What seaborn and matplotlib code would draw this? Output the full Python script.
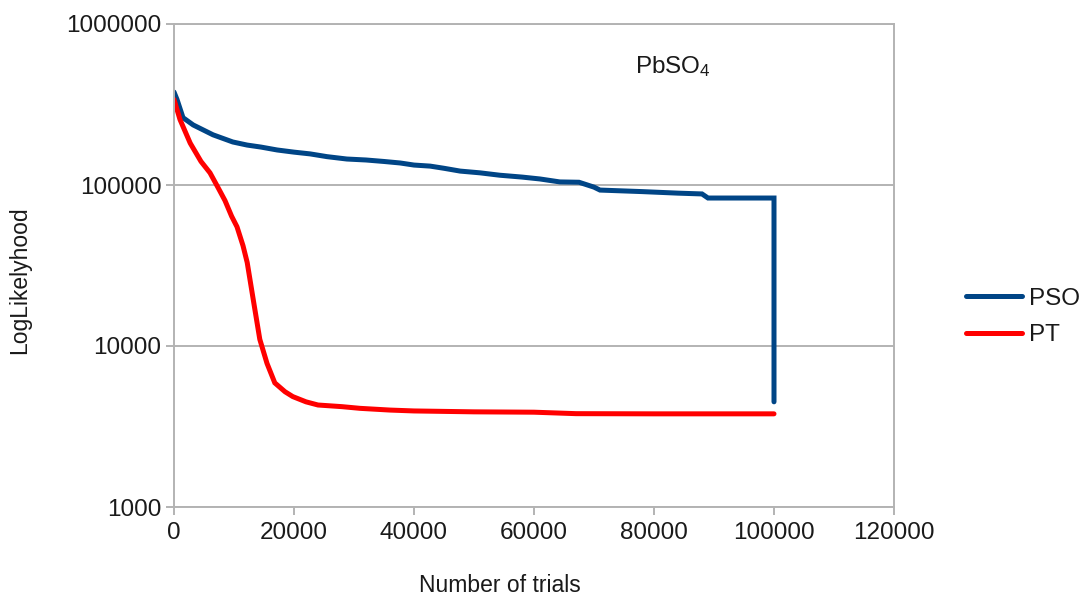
import numpy as np
import pandas as pd
import matplotlib
matplotlib.use("Agg")
import matplotlib.pyplot as plt
from matplotlib.ticker import FixedLocator, FuncFormatter, NullLocator
import seaborn as sns

# Best log-likelihood found so far vs. number of trials
pso_trials = [0, 500, 1500, 3200, 6500, 9800, 12200, 14500, 17200, 20000, 22700,
              25500, 28800, 32000, 35000, 37700, 40000, 42700, 45000, 47700, 51000,
              54300, 58000, 61000, 64300, 67500, 70000, 71000, 78000, 84000, 88000,
              89000, 100000, 100000]
pso_loglik = [378000, 340000, 262000, 236000, 205000, 185000, 177000, 172000, 165000,
              160000, 156000, 150000, 145000, 143000, 140000, 137000, 133000, 131000,
              127000, 122000, 119000, 115000, 112000, 109000, 104500, 104000, 97000,
              93000, 91000, 89000, 88000, 83000, 83000, 4500]

pt_trials = [0, 1000, 2700, 4500, 6000, 7300, 8500, 9600, 10500, 11500, 12200, 13200,
             14300, 15500, 16800, 18500, 19800, 22000, 24000, 28000, 31000, 36000,
             40000, 50000, 60000, 67000, 80000, 100000]
pt_loglik = [340000, 255000, 182000, 140000, 119000, 97000, 80000, 64000, 55000, 42000,
             33000, 19500, 11000, 7800, 5900, 5200, 4850, 4500, 4300, 4200, 4100, 4000,
             3950, 3900, 3880, 3800, 3790, 3790]

series_names = ["PSO", "PT"]
series_colors = ["#004586", "#ff0000"]
y_ticks = [1000, 10000, 100000, 1000000]
x_ticks = [0, 20000, 40000, 60000, 80000, 100000, 120000]

df = pd.concat([
    pd.DataFrame({"trials": pso_trials, "loglik": pso_loglik, "method": "PSO"}),
    pd.DataFrame({"trials": pt_trials, "loglik": pt_loglik, "method": "PT"}),
], ignore_index=True)

sns.set_style("white")
plt.rcParams["font.family"] = ["Liberation Sans", "DejaVu Sans"]
plt.rcParams["mathtext.fontset"] = "custom"
plt.rcParams["mathtext.rm"] = "Liberation Sans"
plt.rcParams["mathtext.it"] = "Liberation Sans"

grid_color = "#b3b3b3"
text_color = "#1a1a1a"

fig = plt.figure(figsize=(10.83, 5.95), dpi=100)
ax = fig.add_axes([174 / 1083, 1 - 507 / 595, 720 / 1083, 483 / 595])

# sort disabled so the final vertical drop of PSO keeps its order
for name, color in zip(series_names, series_colors):
    sub = df[df["method"] == name]
    sns.lineplot(x=sub["trials"].to_numpy(), y=sub["loglik"].to_numpy(), sort=False,
                 estimator=None, color=color, linewidth=3.6, ax=ax, label=name,
                 legend=False, solid_joinstyle="miter")

ax.set_yscale("log")
ax.set_ylim(1000, 1000000)
ax.set_xlim(0, 120000)
ax.yaxis.set_major_locator(FixedLocator(y_ticks))
ax.yaxis.set_minor_locator(NullLocator())
ax.yaxis.set_major_formatter(FuncFormatter(lambda v, p: f"{int(round(v))}"))
ax.xaxis.set_major_locator(FixedLocator(x_ticks))
ax.xaxis.set_major_formatter(FuncFormatter(lambda v, p: f"{int(round(v))}"))

ax.grid(axis="y", color=grid_color, linewidth=1.4)
ax.grid(axis="x", visible=False)
ax.set_axisbelow(True)
for s in ax.spines.values():
    s.set_color(grid_color)
    s.set_linewidth(1.4)
ax.tick_params(axis="both", which="major", direction="out", length=6,
               width=1.4, color=grid_color, labelsize=17.5, labelcolor=text_color, pad=3)
ax.tick_params(axis="x", pad=5)
ax.tick_params(axis="y", left=True)
ax.tick_params(axis="x", bottom=True)

fig.text(500 / 1083, 1 - 585 / 595, "Number of trials", ha="center", va="center",
         fontsize=16.5, color=text_color)
fig.text(20 / 1083, 1 - 280 / 595, "LogLikelyhood", ha="center", va="center",
         rotation=90, fontsize=16.5, color=text_color)

fig.text(673 / 1083, 1 - 67 / 595, r"PbSO$_\mathregular{4}$",
         ha="center", va="center", fontsize=17.5, color=text_color)

handles = [plt.Line2D([], [], color=c, linewidth=3.6) for c in series_colors]
fig.legend(handles, series_names, loc="center left",
           bbox_to_anchor=(949 / 1083, 1 - 317 / 595), frameon=False,
           fontsize=17.5, handlelength=2.3, handletextpad=0.3, labelspacing=0.6,
           labelcolor=text_color, borderpad=0.2)

fig.savefig("out.png", dpi=100)
